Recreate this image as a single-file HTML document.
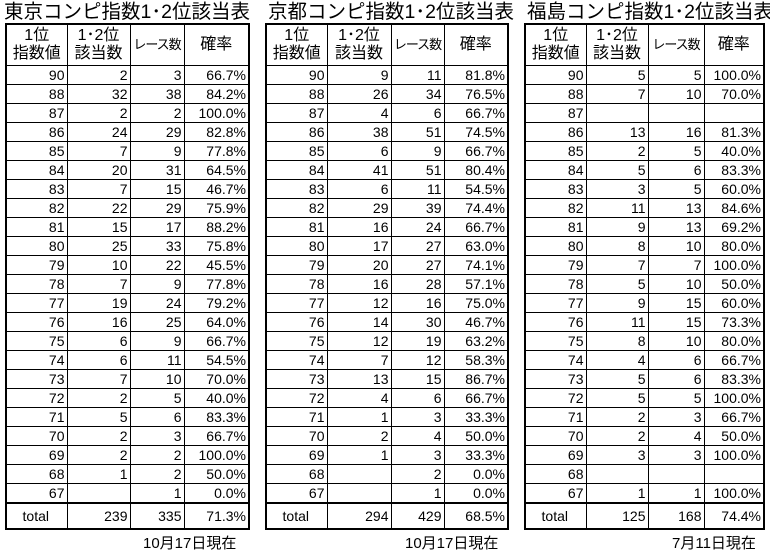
<!DOCTYPE html>
<html><head><meta charset="utf-8"><style>
body{margin:0;width:770px;height:560px;background:#fff;position:relative;overflow:hidden;font-family:"Liberation Sans","Noto Sans CJK JP",sans-serif;color:#000}
.t{position:absolute;font-size:19.5px;top:1px;white-space:nowrap;line-height:22px}
table{position:absolute;top:23px;border-collapse:collapse;table-layout:fixed;border:2px solid #000}
td{border:1px solid #000;padding:0 2px 0 0;height:18px;font-size:14px;text-align:right;line-height:18px;overflow:hidden;white-space:nowrap}
tr.h td{height:40px;text-align:center;font-size:16px;line-height:18px;padding:0;border-bottom:1px solid #000}
tr.tot td{border-top:2px solid #000;height:24px}
tr.tot td:first-child{text-align:center}
.f{position:absolute;top:532px;font-size:15px;white-space:nowrap}
</style></head><body>
<div class="t" style="left:4px">東京コンピ指数1･2位該当表</div>
<div class="t" style="left:268px">京都コンピ指数1･2位該当表</div>
<div class="t" style="left:527px">福島コンピ指数1･2位該当表</div>
<div id="a"></div>
<div class="f" style="left:143px">10月17日現在</div>
<div class="f" style="left:405px">10月17日現在</div>
<div class="f" style="left:672px">7月11日現在</div>
<script>
const rows=[90,88,87,86,85,84,83,82,81,80,79,78,77,76,75,74,73,72,71,70,69,68,67];
const d1=[[2,3,"66.7%"],[32,38,"84.2%"],[2,2,"100.0%"],[24,29,"82.8%"],[7,9,"77.8%"],[20,31,"64.5%"],[7,15,"46.7%"],[22,29,"75.9%"],[15,17,"88.2%"],[25,33,"75.8%"],[10,22,"45.5%"],[7,9,"77.8%"],[19,24,"79.2%"],[16,25,"64.0%"],[6,9,"66.7%"],[6,11,"54.5%"],[7,10,"70.0%"],[2,5,"40.0%"],[5,6,"83.3%"],[2,3,"66.7%"],[2,2,"100.0%"],[1,2,"50.0%"],["",1,"0.0%"],[239,335,"71.3%"]];
const d2=[[9,11,"81.8%"],[26,34,"76.5%"],[4,6,"66.7%"],[38,51,"74.5%"],[6,9,"66.7%"],[41,51,"80.4%"],[6,11,"54.5%"],[29,39,"74.4%"],[16,24,"66.7%"],[17,27,"63.0%"],[20,27,"74.1%"],[16,28,"57.1%"],[12,16,"75.0%"],[14,30,"46.7%"],[12,19,"63.2%"],[7,12,"58.3%"],[13,15,"86.7%"],[4,6,"66.7%"],[1,3,"33.3%"],[2,4,"50.0%"],[1,3,"33.3%"],["",2,"0.0%"],["",1,"0.0%"],[294,429,"68.5%"]];
const d3=[[5,5,"100.0%"],[7,10,"70.0%"],["","",""],[13,16,"81.3%"],[2,5,"40.0%"],[5,6,"83.3%"],[3,5,"60.0%"],[11,13,"84.6%"],[9,13,"69.2%"],[8,10,"80.0%"],[7,7,"100.0%"],[5,10,"50.0%"],[9,15,"60.0%"],[11,15,"73.3%"],[8,10,"80.0%"],[4,6,"66.7%"],[5,6,"83.3%"],[5,5,"100.0%"],[2,3,"66.7%"],[2,4,"50.0%"],[3,3,"100.0%"],["","",""],[1,1,"100.0%"],[125,168,"74.4%"]];
function mk(left,w,d){
 let h=`<table style="left:${left}px;width:${w.reduce((a,b)=>a+b,0)}px"><colgroup>${w.map(x=>`<col style="width:${x}px">`).join('')}</colgroup>`;
 h+=`<tr class="h"><td>1位<br>指数値</td><td>1･2位<br>該当数</td><td style="font-size:13px;letter-spacing:-1px">レース数</td><td>確率</td></tr>`;
 rows.forEach((r,i)=>{h+=`<tr><td>${r}</td><td>${d[i][0]}</td><td>${d[i][1]}</td><td>${d[i][2]}</td></tr>`});
 const t=d[23];h+=`<tr class="tot"><td>total</td><td>${t[0]}</td><td>${t[1]}</td><td>${t[2]}</td></tr></table>`;
 return h;}
document.getElementById('a').innerHTML=mk(5,[61,63,54,65],d1)+mk(265,[61,64,53,64],d2)+mk(524,[61,62,56,60],d3);
</script>
</body></html>
